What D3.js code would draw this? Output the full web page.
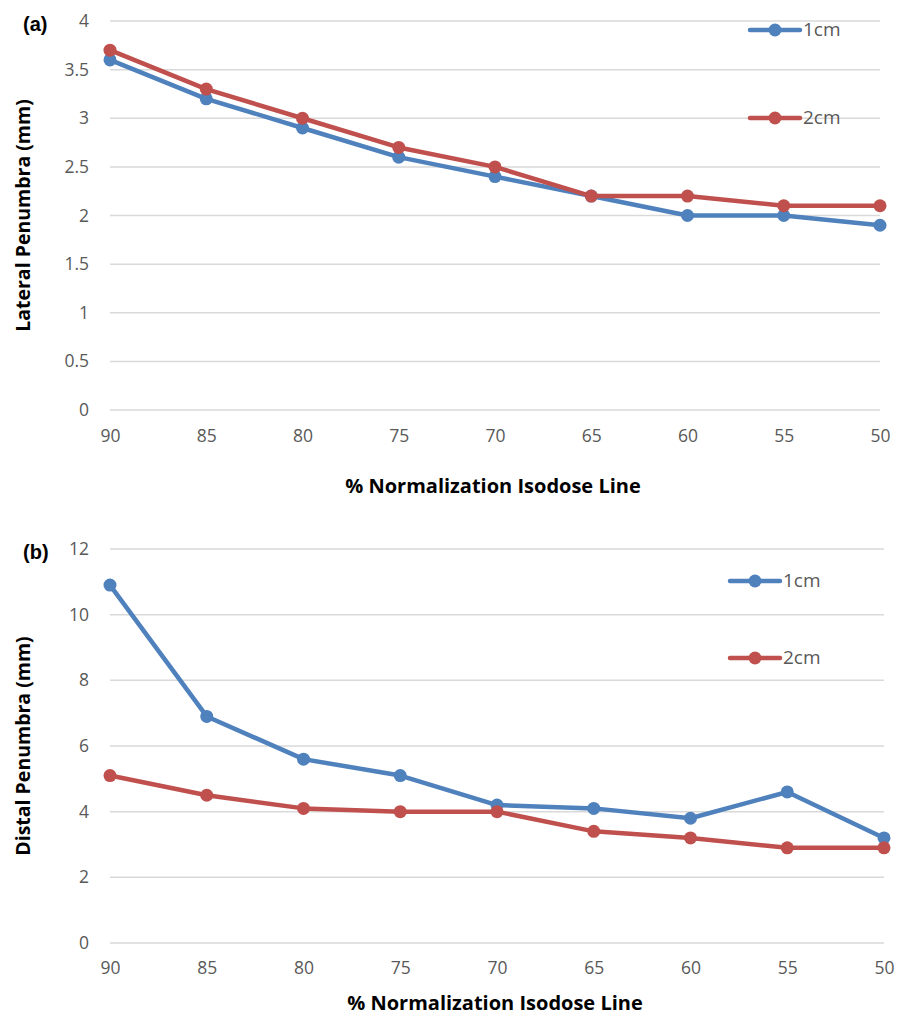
<!DOCTYPE html>
<html>
<head>
<meta charset="utf-8">
<script src="https://cdn.jsdelivr.net/npm/d3@7"></script>
<style>
  body { margin: 0; background: #fff; }
  svg text { font-family: "Open Sans", "Liberation Sans", sans-serif; }
</style>
</head>
<body>
<svg id="chart" width="909" height="1019"></svg>
<script>
// categories (% normalization isodose line)
var isodose = [90, 85, 80, 75, 70, 65, 60, 55, 50];

// (a) lateral penumbra, mm
var lateral1cm = [3.6, 3.2, 2.9, 2.6, 2.4, 2.2, 2.0, 2.0, 1.9];
var lateral2cm = [3.7, 3.3, 3.0, 2.7, 2.5, 2.2, 2.2, 2.1, 2.1];
var lateralTicks = [0, 0.5, 1, 1.5, 2, 2.5, 3, 3.5, 4];

// (b) distal penumbra, mm
var distal1cm = [10.9, 6.9, 5.6, 5.1, 4.2, 4.1, 3.8, 4.6, 3.2];
var distal2cm = [5.1, 4.5, 4.1, 4.0, 4.0, 3.4, 3.2, 2.9, 2.9];
var distalTicks = [0, 2, 4, 6, 8, 10, 12];

var seriesNames = ['1cm', '2cm'];
var colors = ['#4F81BD', '#C0504D'];

var svg = d3.select('#chart');

function drawPanel(opts) {
  var g = svg.append('g');
  var x = d3.scalePoint().domain(isodose).range([opts.left, opts.right]);
  var y = d3.scaleLinear().domain([0, opts.max]).range([opts.bottom, opts.top]);

  // gridlines
  g.selectAll('line.grid').data(opts.ticks).enter().append('line')
      .attr('x1', opts.left)
      .attr('x2', opts.right)
      .attr('y1', function(d) { return y(d); })
      .attr('y2', function(d) { return y(d); })
      .attr('stroke', '#D9D9D9')
      .attr('stroke-width', 1.5);

  // y tick labels
  var yAxis = d3.axisLeft(y).tickValues(opts.ticks).tickSize(0).tickPadding(21)
      .tickFormat(d3.format('~g'));
  var ya = g.append('g').attr('transform', 'translate(' + opts.left + ',0)').call(yAxis);
  ya.select('.domain').remove();
  ya.selectAll('text').attr('font-size', 17.5).attr('fill', '#595959')
      .style('font-family', '"Open Sans", sans-serif');

  // x tick labels
  var xAxis = d3.axisBottom(x).tickSize(0).tickPadding(opts.xPad);
  var xa = g.append('g').attr('transform', 'translate(0,' + opts.bottom + ')').call(xAxis);
  xa.select('.domain').remove();
  xa.selectAll('text').attr('font-size', 17.5).attr('fill', '#595959')
      .style('font-family', '"Open Sans", sans-serif');

  // series lines and markers
  var line = d3.line()
      .x(function(d, i) { return x(isodose[i]); })
      .y(function(d) { return y(d); });

  opts.series.forEach(function(s, k) {
    g.append('path')
        .datum(s)
        .attr('d', line)
        .attr('fill', 'none')
        .attr('stroke', colors[k])
        .attr('stroke-width', 4.5)
        .attr('stroke-linejoin', 'round');
    g.selectAll('circle.s' + k).data(s).enter().append('circle')
        .attr('cx', function(d, i) { return x(isodose[i]); })
        .attr('cy', function(d) { return y(d); })
        .attr('r', 6.5)
        .attr('fill', colors[k]);
  });

  // legend
  seriesNames.forEach(function(name, k) {
    var ly = opts.legendY[k];
    g.append('line')
        .attr('x1', opts.legendX).attr('x2', opts.legendX + 50)
        .attr('y1', ly).attr('y2', ly)
        .attr('stroke', colors[k]).attr('stroke-width', 4.5)
        .attr('stroke-linecap', 'round');
    g.append('circle')
        .attr('cx', opts.legendX + 25).attr('cy', ly).attr('r', 6.5)
        .attr('fill', colors[k]);
    g.append('text')
        .attr('x', opts.legendX + 53).attr('y', ly + 1)
        .attr('dominant-baseline', 'middle')
        .attr('font-size', 19).attr('fill', '#595959')
        .text(name);
  });

  // axis titles
  g.append('text')
      .attr('transform', 'translate(' + opts.yTitleX + ',' + (opts.top + opts.bottom) / 2 + ') rotate(-90)')
      .attr('text-anchor', 'middle')
      .attr('dominant-baseline', 'middle')
      .attr('font-size', 19.5).attr('font-weight', 'bold').attr('fill', '#000')
      .text(opts.yTitle);
  g.append('text')
      .attr('x', (opts.left + opts.right) / 2 - 2)
      .attr('y', opts.xTitleY)
      .attr('text-anchor', 'middle')
      .attr('dominant-baseline', 'middle')
      .attr('font-size', 20).attr('font-weight', 'bold').attr('fill', '#000')
      .text('% Normalization Isodose Line');

  // panel letter
  g.append('text')
      .attr('x', 23).attr('y', opts.top + 5)
      .attr('dominant-baseline', 'middle')
      .attr('font-size', 20).attr('font-weight', 'bold').attr('fill', '#000')
      .style('font-family', '"Liberation Sans", Arial, sans-serif')
      .text(opts.letter);
}

drawPanel({
  left: 110, right: 880, top: 21, bottom: 410, max: 4,
  ticks: lateralTicks,
  series: [lateral1cm, lateral2cm],
  legendX: 750, legendY: [30, 118],
  yTitle: 'Lateral Penumbra (mm)', yTitleX: 25, xTitleY: 488, xPad: 20,
  letter: '(a)'
});

drawPanel({
  left: 110, right: 884, top: 549, bottom: 943, max: 12,
  ticks: distalTicks,
  series: [distal1cm, distal2cm],
  legendX: 730, legendY: [581, 658],
  yTitle: 'Distal Penumbra (mm)', yTitleX: 25, xTitleY: 1005, xPad: 19,
  letter: '(b)'
});
</script>
</body>
</html>
